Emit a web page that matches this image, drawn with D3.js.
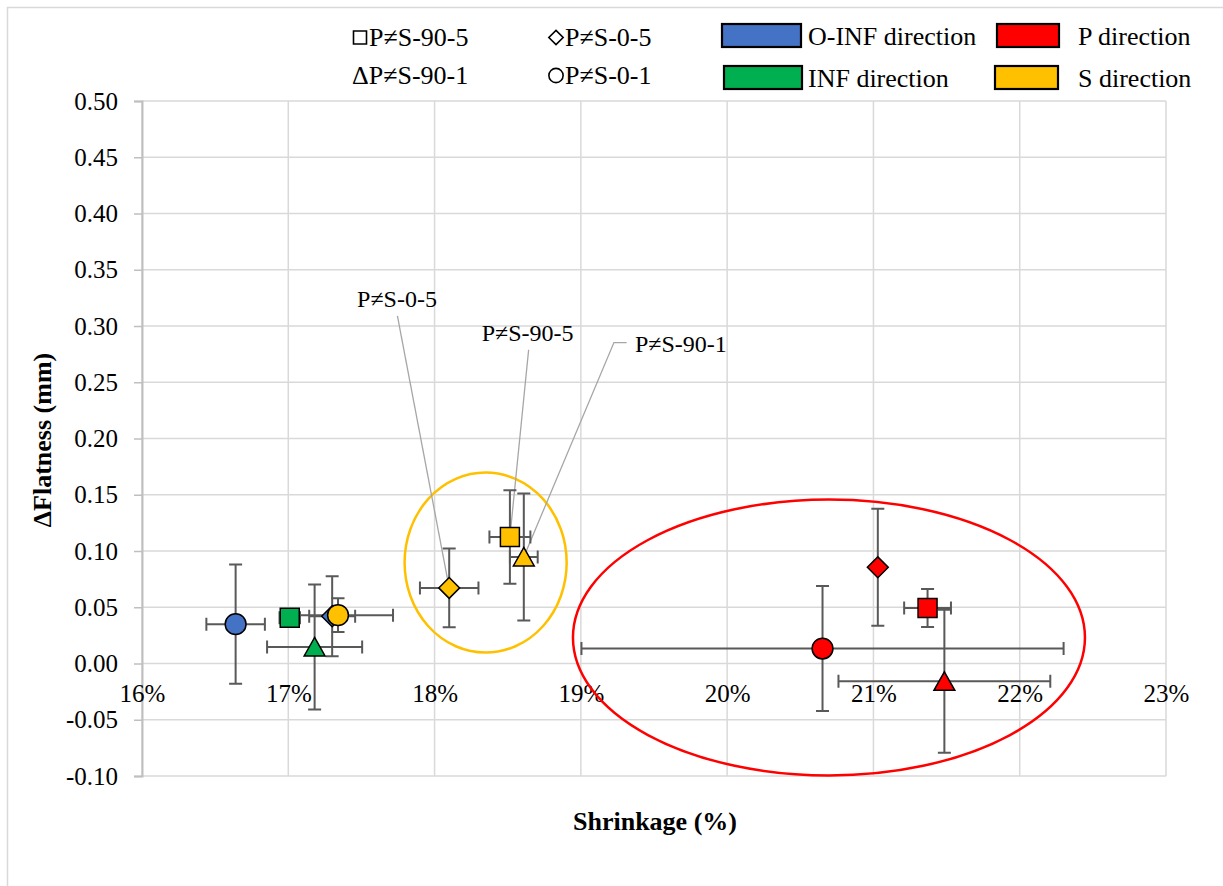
<!DOCTYPE html>
<html>
<head>
<meta charset="utf-8">
<script src="https://cdn.jsdelivr.net/npm/d3@7"></script>
</head>
<body style="margin:0;padding:0;background:#fff">
<svg id="chart" width="1223" height="886" style="display:block"></svg>
<script>
// Test codes (marker shape) and loading directions (marker colour)
const tests = ["P≠S-90-5", "P≠S-0-5", "P≠S-90-1", "P≠S-0-1"];
const testShapes = ["square", "diamond", "triangle", "circle"];
const directions = ["O-INF direction", "P direction", "INF direction", "S direction"];
const directionColors = ["#4472C4", "#FF0000", "#00B050", "#FFC000"];

// Values per direction, indexed like `tests` (null = not measured)
const oinfShrink = [null, 17.30, null, 16.64];
const oinfFlat   = [null, 0.042, null, 0.035];
const oinfXErr   = [null, 0.157, null, 0.20];
const oinfYErr   = [null, 0.0355, null, 0.053];

const pShrink = [21.37, 21.03, 21.485, 20.652];
const pFlat   = [0.0494, 0.0855, -0.0158, 0.0133];
const pXErr   = [0.16, 0, 0.724, 1.648];
const pYErr   = [0.0169, 0.052, 0.0636, 0.0555];

const infShrink = [17.01, null, 17.18, null];
const infFlat   = [0.0406, null, 0.0147, null];
const infXErr   = [0.07, null, 0.325, null];
const infYErr   = [0.005, null, 0.0555, null];

const sShrink = [18.515, 18.10, 18.61, 17.34];
const sFlat   = [0.1125, 0.0672, 0.0947, 0.043];
const sXErr   = [0.14, 0.20, 0.095, 0.376];
const sYErr   = [0.0415, 0.035, 0.0565, 0.015];

// Axis ticks
const xTicks = [16, 17, 18, 19, 20, 21, 22, 23];
const yTicks = [-0.10, -0.05, 0.00, 0.05, 0.10, 0.15, 0.20, 0.25, 0.30, 0.35, 0.40, 0.45, 0.50];

// Group ellipses: [centre shrink, centre flatness, radius shrink, radius flatness]
const sGroupEllipse = [18.349, 0.0897, 0.554, 0.080];
const pGroupEllipse = [20.696, 0.0231, 1.75, 0.1226];

// Callouts for the S-direction points
const callouts = [
  { text: "P≠S-0-5",  lx: 17.743, ly: 0.3242, sx: 17.746, sy: 0.309,  test: 1, elbow: null },
  { text: "P≠S-90-5", lx: 18.636, ly: 0.294,  sx: 18.643, sy: 0.2789, test: 0, elbow: null },
  { text: "P≠S-90-1", lx: 19.37,  ly: 0.2842, sx: 19.313, sy: 0.2853, test: 2, elbow: 19.226 }
];

const FONT = "serif";
const svg = d3.select("#chart");
const W = 1223, H = 886;

// Chart frame
svg.append("rect").attr("x", 7.5).attr("y", 7.5).attr("width", W + 10).attr("height", H + 10)
  .attr("fill", "#fff").attr("stroke", "#D9D9D9").attr("stroke-width", 1.5);

const plot = { left: 142, right: 1166, top: 101, bottom: 776 };
const x = d3.scaleLinear().domain([16, 23]).range([plot.left, plot.right]);
const y = d3.scaleLinear().domain([-0.10, 0.50]).range([plot.bottom, plot.top]);

// Gridlines
const grid = svg.append("g").attr("stroke", "#D9D9D9").attr("stroke-width", 1.5);
grid.selectAll("line.v").data(xTicks).join("line").attr("class", "v")
  .attr("x1", d => x(d)).attr("x2", d => x(d)).attr("y1", plot.top).attr("y2", plot.bottom);
grid.selectAll("line.h").data(yTicks).join("line").attr("class", "h")
  .attr("x1", plot.left).attr("x2", plot.right).attr("y1", d => y(d)).attr("y2", d => y(d));

// Y axis
const yAxis = svg.append("g").attr("transform", `translate(${plot.left},0)`)
  .call(d3.axisLeft(y).tickValues(yTicks).tickSize(8).tickPadding(16).tickFormat(d => d.toFixed(2)));
yAxis.attr("font-family", FONT).attr("font-size", null);
yAxis.select(".domain").attr("stroke", "#BFBFBF").attr("stroke-width", 2);
yAxis.selectAll(".tick line").attr("stroke", "#BFBFBF").attr("stroke-width", 1.5);
yAxis.selectAll(".tick text").attr("fill", "#000")
  .style("font-family", FONT).style("font-size", "25px");

// X axis labels sit just under the zero line
const xAxis = svg.append("g").attr("transform", `translate(0,${y(0)})`)
  .call(d3.axisBottom(x).tickValues(xTicks).tickSize(0).tickFormat(d => d + "%"));
xAxis.attr("font-family", FONT).attr("font-size", null);
xAxis.select(".domain").remove();
xAxis.selectAll(".tick text").attr("fill", "#000").attr("dy", null).attr("y", 38)
  .style("font-family", FONT).style("font-size", "25px");

// Axis titles
svg.append("text").attr("x", 655).attr("y", 830).attr("text-anchor", "middle")
  .style("font-family", FONT).style("font-size", "26px").style("font-weight", "bold").text("Shrinkage (%)");
svg.append("text").attr("transform", "translate(51,440) rotate(-90)").attr("text-anchor", "middle")
  .style("font-family", FONT).style("font-size", "26px").style("font-weight", "bold").text("ΔFlatness (mm)");

// Assemble point records from the arrays
const seriesArrays = [
  [oinfShrink, oinfFlat, oinfXErr, oinfYErr],
  [pShrink, pFlat, pXErr, pYErr],
  [infShrink, infFlat, infXErr, infYErr],
  [sShrink, sFlat, sXErr, sYErr]
];
const points = [];
seriesArrays.forEach((arr, di) => {
  tests.forEach((t, ti) => {
    if (arr[0][ti] == null) return;
    points.push({ dir: di, test: ti, sx: arr[0][ti], fy: arr[1][ti], ex: arr[2][ti], ey: arr[3][ti] });
  });
});

// Group ellipses
[[sGroupEllipse, "#FFC000"], [pGroupEllipse, "#FF0000"]].forEach(([e, c]) => {
  svg.append("ellipse")
    .attr("cx", x(e[0])).attr("cy", y(e[1]))
    .attr("rx", x(e[0] + e[2]) - x(e[0])).attr("ry", y(e[1]) - y(e[1] + e[3]))
    .attr("fill", "none").attr("stroke", c).attr("stroke-width", 2.5);
});

// Callout leader lines
const sPoint = ti => points.find(p => p.dir === 3 && p.test === ti);
const leaders = svg.append("g").attr("stroke", "#A6A6A6").attr("stroke-width", 1.3).attr("fill", "none");
callouts.forEach(c => {
  const p = sPoint(c.test);
  const pts = [[x(c.sx), y(c.sy)]];
  if (c.elbow != null) pts.push([x(c.elbow), y(c.sy)]);
  pts.push([x(p.sx), y(p.fy)]);
  leaders.append("path").attr("d", d3.line()(pts));
});
callouts.forEach(c => {
  svg.append("text")
    .attr("x", x(c.lx)).attr("y", y(c.ly) + 8)
    .attr("text-anchor", c.elbow != null ? "start" : "middle")
    .style("font-family", FONT).style("font-size", "24px").text(c.text);
});

// Error bars
const cap = 6.5;
const eb = svg.append("g").attr("stroke", "#595959").attr("stroke-width", 2).attr("fill", "none");
points.forEach(p => {
  const cx = x(p.sx), cy = y(p.fy);
  if (p.ey > 0) {
    const y1 = y(p.fy + p.ey), y2 = y(p.fy - p.ey);
    eb.append("path").attr("d", `M${cx},${y1}V${y2}M${cx - cap},${y1}H${cx + cap}M${cx - cap},${y2}H${cx + cap}`);
  }
  if (p.ex > 0) {
    const x1 = x(p.sx - p.ex), x2 = x(p.sx + p.ex);
    eb.append("path").attr("d", `M${x1},${cy}H${x2}M${x1},${cy - cap}V${cy + cap}M${x2},${cy - cap}V${cy + cap}`);
  }
});

// Marker shapes (size = half-extent)
function shapePath(shape, s) {
  switch (shape) {
    case "square": return `M${-s},${-s}H${s}V${s}H${-s}Z`;
    case "diamond": return `M0,${-s * 1.1}L${s * 1.1},0L0,${s * 1.1}L${-s * 1.1},0Z`;
    case "triangle": return `M0,${-s}L${s * 1.1},${s * 0.95}L${-s * 1.1},${s * 0.95}Z`;
    default: return d3.symbol(d3.symbolCircle, Math.PI * s * s * 1.2)();
  }
}
// Layering: O-INF first, then INF, S, P
const drawOrder = [0, 2, 3, 1];
drawOrder.forEach(di => {
  points.filter(p => p.dir === di).forEach(p => {
    svg.append("path").attr("d", shapePath(testShapes[p.test], 9.5))
      .attr("transform", `translate(${x(p.sx)},${y(p.fy)})`)
      .attr("fill", directionColors[p.dir]).attr("stroke", "#000").attr("stroke-width", 1.5);
  });
});

// Legend: outline shapes by test
const shapeLegendPos = [[352, 46], [548, 46], [352, 84], [548, 84]];
tests.forEach((t, i) => {
  const [lx, ly] = shapeLegendPos[i];
  if (testShapes[i] === "triangle") {
    svg.append("text").attr("x", lx).attr("y", ly)
      .style("font-family", FONT).style("font-size", "26px").text("Δ" + t);
  } else {
    svg.append("path").attr("d", shapePath(testShapes[i], 6.5))
      .attr("transform", `translate(${lx + 8},${ly - 8.5})`)
      .attr("fill", "none").attr("stroke", "#000").attr("stroke-width", 1.6);
    svg.append("text").attr("x", lx + 17).attr("y", ly)
      .style("font-family", FONT).style("font-size", "26px").text(t);
  }
});

// Legend: colour patches by direction
const patchPos = [[722, 24, 79, 23], [997, 24, 62, 23], [724, 66, 78, 23], [995, 66, 63, 23]];
const textPos = [[808, 45], [1078, 45], [808, 87], [1078, 87]];
directions.forEach((d, i) => {
  const [px, py, pw, ph] = patchPos[i];
  svg.append("rect").attr("x", px).attr("y", py).attr("width", pw).attr("height", ph)
    .attr("fill", directionColors[i]).attr("stroke", "#000").attr("stroke-width", 2.2);
  svg.append("text").attr("x", textPos[i][0]).attr("y", textPos[i][1])
    .style("font-family", FONT).style("font-size", "26px").text(d);
});
</script>
</body>
</html>
